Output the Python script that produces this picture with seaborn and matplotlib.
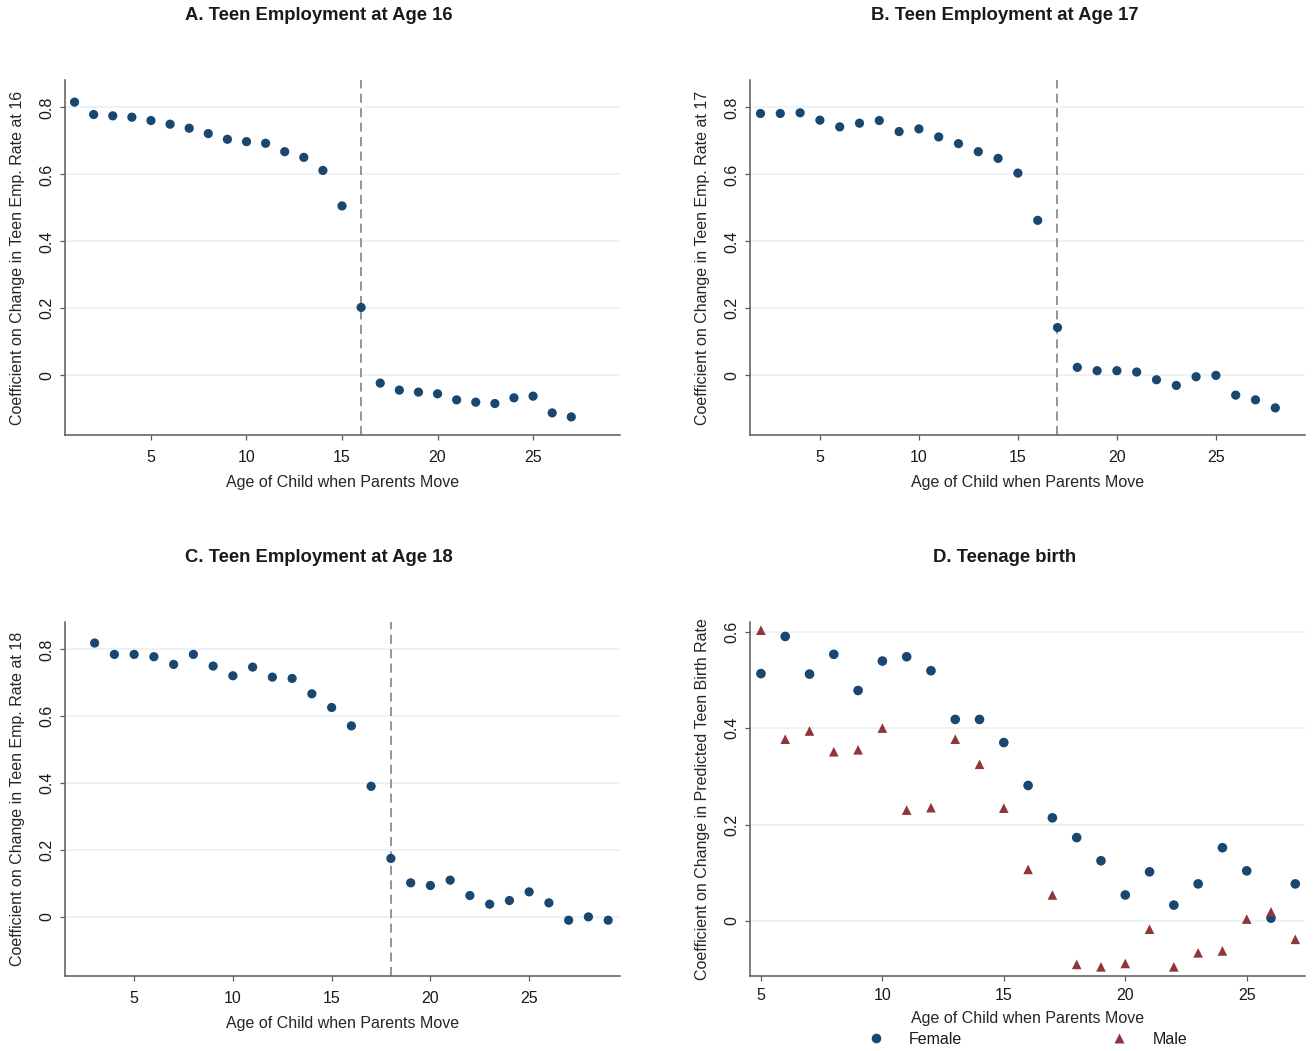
import matplotlib
matplotlib.use("Agg")
import matplotlib.pyplot as plt
import pandas as pd
import seaborn as sns

# panel A: teen employment at 16
ages_a = list(range(1, 28))
coef_a = [0.816, 0.779, 0.775, 0.771, 0.761, 0.750, 0.738, 0.722, 0.705, 0.698,
          0.693, 0.668, 0.651, 0.612, 0.506, 0.203, -0.023, -0.044, -0.050, -0.055,
          -0.073, -0.080, -0.084, -0.067, -0.062, -0.112, -0.124]

# panel B: teen employment at 17
ages_b = list(range(2, 29))
coef_b = [0.782, 0.782, 0.784, 0.762, 0.742, 0.753, 0.761, 0.728, 0.736, 0.712,
          0.692, 0.668, 0.648, 0.604, 0.463, 0.143, 0.024, 0.014, 0.014, 0.010,
          -0.013, -0.030, -0.004, 0.000, -0.059, -0.073, -0.097]

# panel C: teen employment at 18
ages_c = list(range(3, 30))
coef_c = [0.819, 0.785, 0.785, 0.778, 0.755, 0.785, 0.750, 0.721, 0.747, 0.717,
          0.713, 0.667, 0.626, 0.571, 0.390, 0.174, 0.101, 0.093, 0.109, 0.063,
          0.037, 0.048, 0.074, 0.041, -0.011, -0.001, -0.011]

# panel D: teenage birth by sex
ages_d = list(range(5, 28))
female_d = [0.513, 0.590, 0.512, 0.553, 0.478, 0.539, 0.548, 0.519, 0.418, 0.418,
            0.370, 0.281, 0.214, 0.173, 0.125, 0.054, 0.102, 0.033, 0.077, 0.152,
            0.104, 0.006, 0.077]
male_d = [0.603, 0.377, 0.394, 0.351, 0.355, 0.400, 0.230, 0.235, 0.377, 0.325,
          0.234, 0.107, 0.054, -0.090, -0.095, -0.088, -0.017, -0.095, -0.066, -0.062,
          0.004, 0.019, -0.038]

BLUE = "#1a476f"
RED = "#90353b"
GRID = "#eaf1f2"
SPINE = "#5a5a5a"

sns.set_theme(style="ticks")
plt.rcParams["font.family"] = ["Liberation Sans", "DejaVu Sans"]
plt.rcParams["text.color"] = "#1a1a1a"

W, H = 1313, 1051
fig = plt.figure(figsize=(W / 100, H / 100), dpi=100)


def make_axes(left, right, top, bottom):
    return fig.add_axes([left / W, 1 - bottom / H, (right - left) / W, (bottom - top) / H])


def style_axes(ax, xlim, ylim, yticks, ylabel, xlabel_off, ylabel_off=-0.085):
    ax.set_xlim(*xlim)
    ax.set_ylim(*ylim)
    ax.set_xticks([5, 10, 15, 20, 25])
    ax.set_yticks(yticks)
    ax.set_yticklabels(["0" if t == 0 else f"{t:g}" for t in yticks])
    ax.yaxis.grid(True, color=GRID, linewidth=1.2)
    ax.xaxis.grid(False)
    ax.set_axisbelow(True)
    for s in ["top", "right"]:
        ax.spines[s].set_visible(False)
    for s in ["left", "bottom"]:
        ax.spines[s].set_color(SPINE)
        ax.spines[s].set_linewidth(1.1)
    ax.tick_params(axis="both", length=3.5, width=0.9, color=SPINE,
                   labelsize=11.5, labelcolor="#1a1a1a")
    ax.tick_params(axis="x", pad=7)
    ax.tick_params(axis="y", labelrotation=90, pad=4)
    for lab in ax.get_yticklabels():
        lab.set_va("center")
    ax.set_xlabel("Age of Child when Parents Move", fontsize=11.5)
    ax.xaxis.set_label_coords(0.5, xlabel_off)
    ax.xaxis.label.set_va("center")
    ax.set_ylabel(ylabel, fontsize=11.5)
    ax.yaxis.set_label_coords(ylabel_off, 0.5)
    ax.yaxis.label.set_va("center")


panels = [
    ("A. Teen Employment at Age 16", ages_a, coef_a, 16, (0.5, 29.55),
     "Coefficient on Change in Teen Emp. Rate at 16", (65, 620, 80, 435), 319, 16),
    ("B. Teen Employment at Age 17", ages_b, coef_b, 17, (1.47, 29.5),
     "Coefficient on Change in Teen Emp. Rate at 17", (750, 1305, 80, 435), 1005, 16),
    ("C. Teen Employment at Age 18", ages_c, coef_c, 18, (1.5, 29.6),
     "Coefficient on Change in Teen Emp. Rate at 18", (65, 620, 622, 976), 319, 557),
]

for title, ages, coef, cut, xlim, ylabel, box, tx, ty in panels:
    ax = make_axes(*box)
    df = pd.DataFrame({"age": ages, "coef": coef})
    ax.axvline(cut, color="#8c8c8c", linewidth=1.3, dashes=(5, 3), zorder=1)
    sns.scatterplot(data=df, x="age", y="coef", color=BLUE, s=44,
                    edgecolor="none", ax=ax, zorder=3)
    style_axes(ax, xlim, (-0.178, 0.882), [0, 0.2, 0.4, 0.6, 0.8], ylabel,
               -48 / 355)
    fig.text(tx / W, 1 - ty / H, title, ha="center", va="center",
             fontsize=13.3, fontweight="bold")

# panel D
ax = make_axes(750, 1305, 622, 976)
birth_df = pd.DataFrame({
    "age": ages_d + ages_d,
    "coef": female_d + male_d,
    "Sex": ["Female"] * len(ages_d) + ["Male"] * len(ages_d),
})
sns.scatterplot(data=birth_df, x="age", y="coef", hue="Sex", style="Sex",
                palette={"Female": BLUE, "Male": RED},
                markers={"Female": "o", "Male": "^"}, s=48,
                edgecolor="none", ax=ax, zorder=3)
style_axes(ax, (4.55, 27.4), (-0.114, 0.62), [0, 0.2, 0.4, 0.6],
           "Coefficient on Change in Predicted Teen Birth Rate", -43 / 354)
ax.tick_params(axis="x", pad=5)
sns.move_legend(ax, "center", bbox_to_anchor=(0.5, -(1039 - 976) / 354),
                ncol=2, frameon=False, title=None, fontsize=11.5,
                handlelength=1.0, handletextpad=1.6, columnspacing=9.3,
                markerscale=1.0)
fig.text(1005 / W, 1 - 557 / H, "D. Teenage birth", ha="center", va="center",
         fontsize=13.3, fontweight="bold")

fig.savefig("out.png", dpi=100, facecolor="white")
